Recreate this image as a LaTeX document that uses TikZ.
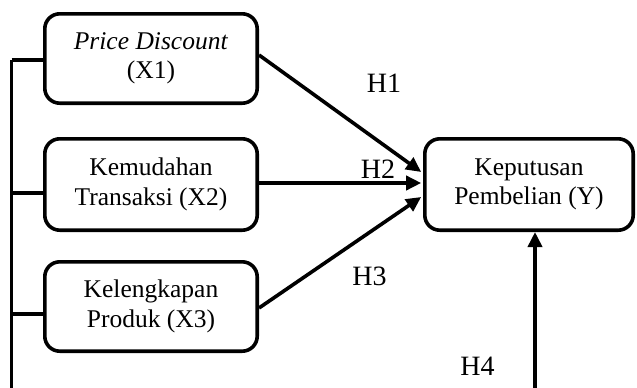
\documentclass[tikz,border=0pt]{standalone}
\usepackage{fontspec}
\setmainfont{Liberation Serif}
\usetikzlibrary{arrows.meta,calc}
\begin{document}
\begin{tikzpicture}[x=1pt,y=-1pt,
  box/.style={draw,line width=3.6pt,rounded corners=15pt,inner sep=0pt,
    align=center,font=\fontsize{25.5}{29.5}\selectfont},
  conn/.style={line width=3.6pt},
  arr/.style={line width=3.6pt,-{Triangle[length=15pt,width=14pt]}},
  hlab/.style={anchor=base,inner sep=0pt,font=\fontsize{28}{32}\selectfont}]
\clip (0,0) rectangle (637,388);
\node[box,minimum width=212.4pt,minimum height=89.4pt] (X1) at (151,58.5) {\textit{Price Discount}\\(X1)};
\node[box,minimum width=212.4pt,minimum height=91.4pt] (X2) at (151,184.5) {Kemudahan\\Transaksi (X2)};
\node[box,minimum width=212.4pt,minimum height=89.4pt] (X3) at (151,306.5) {Kelengkapan\\Produk (X3)};
\node[box,minimum width=208.4pt,minimum height=91.4pt] (Y) at (529,184.5) {Keputusan\\Pembelian (Y)};
\coordinate (b1) at (11.5,60);
\coordinate (b2) at (11.5,193);
\coordinate (b3) at (11.5,314);
\coordinate (bb) at (11.5,391.5);
\coordinate (br) at (535,391.5);
\draw[conn] (b1) -- (bb) -- (br);
\draw[conn] (b1) -- (b1 -| X1.west);
\draw[conn] (b2) -- (b2 -| X2.west);
\draw[conn] (b3) -- (b3 -| X3.west);
\draw[arr] ($(X1.east)+(0,-3.5)$) -- ($(Y.west)+(-1.8,-12.5)$);
\draw[arr] ($(X2.east)+(0,-1.5)$) -- ($(Y.west)+(-1.8,-1.5)$);
\draw[arr] ($(X3.east)+(0,1.5)$) -- ($(Y.west)+(-1.8,12.5)$);
\draw[arr] (br) -- (br |- Y.south);
\node[hlab] (H1) at (384,92) {H1};
\node[hlab] (H2) at (378,178) {H2};
\node[hlab] (H3) at (369.5,285) {H3};
\node[hlab] (H4) at (477.5,375) {H4};
\end{tikzpicture}
\end{document}
